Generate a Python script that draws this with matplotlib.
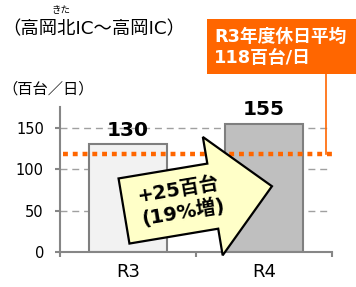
import numpy as np
import matplotlib.pyplot as plt
from matplotlib.patches import Polygon, Rectangle

plt.rcParams['font.family'] = ['DejaVu Sans', 'Noto Sans CJK JP']

categories = ['R3', 'R4']
values = [130, 155]
bar_colors = ['#F2F2F2', '#BFBFBF']
average = 118
yticks = [0, 50, 100, 150]

W, H = 356, 287
fig = plt.figure(figsize=(W / 100, H / 100), dpi=100)
ax = fig.add_axes([60 / W, 35 / H, 272 / W, 145 / H])

def px(x, y):
    # image pixel (y down) -> figure fraction
    return x / W, 1 - y / H

x = np.arange(len(categories))
ax.bar(x, values, width=0.57, color=bar_colors, edgecolor='#7F7F7F',
       linewidth=1.5, zorder=2)
for xi, v in zip(x, values):
    ax.annotate(str(v), (xi, v), xytext=(0, 3), textcoords='offset points',
                ha='center', va='bottom', fontsize=14.5, fontweight='bold')

ax.set_xlim(-0.5, 1.5)
ax.set_ylim(0, 175)
ax.set_yticks(yticks)
ax.set_xticks(x)
ax.set_xticklabels(categories)
ax.set_xticks([-0.5, 0.5, 1.5], minor=True)
ax.tick_params(axis='y', length=3.6, width=1.5, color='#868686', pad=8,
               labelsize=10.5)
ax.tick_params(axis='x', which='major', length=0, pad=8, labelsize=13)
ax.tick_params(axis='x', which='minor', length=3.6, width=1.5, color='#868686')
for s in ['top', 'right']:
    ax.spines[s].set_visible(False)
for s in ['left', 'bottom']:
    ax.spines[s].set_color('#868686')
    ax.spines[s].set_linewidth(1.5)
ax.spines['bottom'].set_zorder(3)

for t in yticks[1:]:
    ax.axhline(t, color='#A0A0A0', lw=1, linestyle=(0, (5, 3.5)), zorder=1)

# average line
ax.plot([-0.48, 1.52], [average, average], color='#FF6600', lw=3.2,
        linestyle=(0, (1.1, 1.1)), dash_capstyle='butt', clip_on=False, zorder=3)
ax.plot([1.455, 1.455], [average, 216], color='#FF6600', lw=1.2,
        clip_on=False, zorder=3)

# average label box
bx, by = px(207, 74)
fig.add_artist(Rectangle((bx, by), 149 / W, 55 / H, transform=fig.transFigure,
                         facecolor='#FF6600', edgecolor='none'))
fig.text(*px(214, 37), 'R3年度休日平均', color='white', fontweight='bold',
         fontsize=12.8, va='center', ha='left')
fig.text(*px(214, 58), '118百台/日', color='white', fontweight='bold',
         fontsize=12.8, va='center', ha='left')

# titles
fig.text(*px(2, 34), '（高岡北IC～高岡IC）', fontsize=13.2, va='baseline', ha='left')
fig.text(*px(61, 10), 'きた', fontsize=6.8, va='center', ha='center')
fig.text(*px(2, 89), '（百台／日）', fontsize=11, va='center', ha='left')

# block arrow
ang = np.deg2rad(9.5)
d = np.array([np.cos(ang), -np.sin(ang)])
n = np.array([d[1], -d[0]])
tail = np.array([124.0, 211.0])
body_len, half_body, half_head, head_len = 90, 33, 60, 60
hb = tail + body_len * d
pts = [tail + half_body * n, hb + half_body * n, hb + half_head * n,
       hb + head_len * d, hb - half_head * n, hb - half_body * n,
       tail - half_body * n]
pts = [px(p[0], p[1]) for p in pts]
fig.add_artist(Polygon(pts, closed=True, transform=fig.transFigure,
                       facecolor='#FFFFC8', edgecolor='black', lw=1.6,
                       joinstyle='miter', zorder=5))
c = tail + 58 * d
fig.text(*px(c[0], c[1]), '+25百台\n(19%増)', fontsize=14, fontweight='bold',
         rotation=9.5, rotation_mode='anchor', ha='center', va='center',
         linespacing=1.2, multialignment='left', zorder=6)

plt.savefig('out.png', dpi=100)
